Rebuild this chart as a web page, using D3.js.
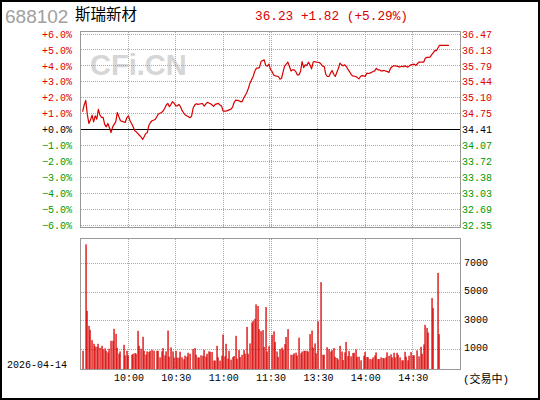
<!DOCTYPE html>
<html lang="zh-CN">
<head>
<meta charset="utf-8">
<title>688102 斯瑞新材</title>
<script src="https://cdn.jsdelivr.net/npm/d3@7/dist/d3.min.js"></script>
<style>
  body { margin: 0; background: #fff; }
  svg text { font-family: "Liberation Mono", "DejaVu Sans Mono", "Noto Sans CJK SC", monospace; }
</style>
</head>
<body>
<script>
  var stockCode = "688102";
  var stockName = "斯瑞新材";
  var preClose = 34.41;
  var lastPrice = 36.23;
  var change = 1.82;
  var changePct = 5.29;
  var dateLabel = "2026-04-14";
  var statusLabel = "(交易中)";

  // percent ticks on the price panel, minutes after 9:30 for the time ticks
  var pctTicks = [6, 5, 4, 3, 2, 1, 0, -1, -2, -3, -4, -5, -6];
  var timeTicks = [30, 60, 90, 120, 150, 180, 210];
  var timeLabels = ["10:00", "10:30", "11:00", "11:30", "13:30", "14:00", "14:30"];
  var volTicks = [1000, 3000, 5000, 7000];

  // minute line: minute index (0 = 9:30, 120 = 11:30/13:00) and change in %
  var priceMinute = [1, 2, 3, 4, 5, 6, 7, 8, 9, 10, 11, 12, 13, 14, 15, 16, 17, 18, 19, 20,
    21, 22, 23, 24, 25, 27, 28, 29, 30, 31, 32, 33, 34, 35, 37, 38, 39, 40, 41, 42,
    43, 44, 45, 47, 48, 49, 51, 52, 53, 54, 55, 56, 57, 58, 59, 60, 61, 62, 63, 64,
    65, 66, 68, 69, 70, 71, 72, 73, 74, 76, 77, 78, 79, 80, 82, 83, 84, 85, 87, 88,
    89, 90, 92, 93, 95, 96, 97, 98, 100, 101, 102, 103, 105, 106, 107, 108, 109, 110, 111, 112,
    113, 114, 116, 117, 118, 119, 120, 121, 122, 123, 125, 126, 127, 128, 129, 130, 131, 132, 133, 134,
    135, 136, 137, 138, 139, 140, 141, 142, 143, 144, 145, 146, 147, 148, 149, 151, 152, 153, 154, 155,
    156, 157, 158, 159, 160, 161, 163, 164, 165, 166, 167, 168, 169, 170, 171, 172, 174, 175, 176, 177,
    178, 179, 180, 181, 182, 183, 185, 186, 187, 188, 189, 190, 191, 192, 194, 195, 196, 197, 198, 199,
    200, 202, 203, 204, 205, 207, 208, 209, 211, 212, 213, 214, 216, 217, 218, 219, 220, 221, 222, 223,
    224, 225, 226, 227, 233];
  var pricePct = [1.12, 1.54, 1.83, 0.95, 0.38, 0.59, 0.90, 0.48, 0.86, 0.65, 1.26, 0.91, 0.76, 0.76, 0.32, 0.17, 0.38, 0.11, -0.19, 0.15,
    0.32, 0.48, 1.07, 0.80, 0.55, 0.48, 0.44, 0.74, 0.86, 0.57, 0.38, 0.17, -0.06, -0.15, -0.36, -0.46, -0.63, -0.46, -0.25, -0.19,
    0.27, 0.44, 0.55, 0.63, 0.80, 0.97, 1.07, 1.16, 1.33, 1.54, 1.64, 1.43, 1.58, 1.75, 1.64, 1.49, 1.49, 1.58, 1.43, 1.20,
    1.05, 0.91, 0.80, 0.74, 0.84, 1.33, 1.54, 1.62, 1.58, 1.62, 1.62, 1.47, 1.60, 1.71, 1.62, 1.54, 1.45, 1.58, 1.64, 1.54,
    1.47, 1.16, 1.16, 1.20, 1.28, 1.41, 1.71, 1.85, 1.81, 1.75, 1.75, 1.96, 2.32, 2.59, 2.91, 3.12, 3.33, 3.64, 3.85, 3.85,
    3.89, 4.27, 4.38, 4.02, 3.98, 4.11, 3.78, 3.64, 3.43, 3.37, 3.33, 3.16, 3.22, 3.64, 4.00, 4.11, 4.23, 3.96, 3.68, 3.75,
    3.75, 3.64, 3.43, 3.43, 3.64, 4.27, 3.89, 4.06, 4.02, 4.23, 4.06, 3.81, 4.23, 4.27, 4.23, 4.21, 4.11, 3.98, 3.96, 3.47,
    3.33, 3.33, 3.54, 3.71, 3.47, 3.33, 3.85, 4.17, 4.06, 4.00, 4.06, 3.96, 3.79, 3.64, 3.47, 3.37, 3.33, 3.26, 3.18, 3.33,
    3.39, 3.37, 3.33, 3.54, 3.52, 3.54, 3.64, 3.68, 3.85, 3.75, 3.75, 3.68, 3.68, 3.71, 3.64, 3.58, 3.85, 3.94, 4.00, 4.00,
    3.98, 3.92, 3.98, 3.94, 4.00, 3.92, 4.00, 4.06, 4.11, 4.02, 4.13, 4.23, 4.23, 4.23, 4.48, 4.53, 4.53, 4.55, 4.69, 4.82,
    4.95, 4.95, 5.12, 5.29, 5.29];

  // volume bars (lots per minute)
  var volMinute = [1, 3, 4, 5, 6, 7, 8, 9, 10, 11, 12, 13, 14, 15, 16, 17, 18, 19, 20, 21,
    22, 23, 24, 25, 27, 28, 29, 30, 32, 33, 34, 35, 36, 37, 38, 39, 40, 41, 42, 43,
    44, 45, 46, 48, 49, 50, 51, 52, 53, 54, 55, 56, 57, 58, 59, 60, 61, 62, 63, 64,
    65, 66, 67, 68, 69, 71, 72, 73, 74, 75, 76, 77, 78, 79, 80, 81, 82, 83, 84, 85,
    86, 87, 88, 89, 90, 91, 92, 93, 94, 95, 96, 97, 98, 99, 100, 101, 102, 103, 104, 105,
    106, 107, 108, 109, 110, 111, 112, 113, 114, 115, 116, 117, 118, 119, 121, 122, 123, 124, 125, 126,
    127, 128, 129, 130, 131, 133, 134, 135, 136, 137, 138, 139, 140, 141, 142, 143, 144, 145, 146, 147,
    148, 149, 150, 152, 153, 154, 156, 157, 158, 159, 160, 161, 162, 163, 164, 165, 166, 167, 168, 169,
    170, 171, 172, 173, 174, 175, 176, 177, 179, 180, 181, 182, 183, 184, 185, 186, 187, 188, 189, 190,
    191, 192, 193, 194, 195, 196, 197, 198, 199, 200, 201, 202, 203, 204, 205, 206, 207, 208, 209, 210,
    211, 213, 214, 215, 216, 217, 218, 219, 220, 222, 223, 226, 227];
  var volume = [880, 8350, 3675, 2630, 2350, 1630, 1370, 1190, 1160, 1370, 1090, 1230, 980, 1050, 880, 770, 1020, 1580, 1580, 2420,
    2070, 1090, 670, 840, 1300, 560, 880, 560, 600, 670, 720, 670, 2280, 1230, 1020, 1860, 880, 600, 840, 790,
    880, 950, 880, 880, 880, 420, 840, 1070, 560, 840, 2300, 470, 1120, 840, 400, 880, 400, 400, 810, 420,
    280, 540, 470, 740, 670, 1000, 1070, 600, 400, 420, 560, 530, 950, 470, 670, 840, 810, 790, 190, 190,
    1230, 420, 190, 540, 2020, 490, 1370, 330, 880, 260, 440, 510, 1930, 330, 930, 440, 600, 930, 670, 2560,
    670, 1400, 2860, 2980, 3120, 4140, 4020, 2400, 2260, 2330, 1150, 3950, 830, 1200, 2000, 2250, 1500, 830, 450, 1000,
    1100, 930, 1350, 1850, 2400, 600, 600, 700, 750, 550, 1800, 700, 830, 880, 880, 880, 830, 2050, 2300, 1100,
    1400, 700, 2950, 5700, 600, 600, 1130, 1000, 830, 930, 1070, 450, 380, 270, 1230, 830, 230, 770, 1500, 510,
    860, 490, 720, 740, 980, 460, 460, 210, 530, 790, 440, 420, 300, 280, 420, 560, 770, 300, 300, 420,
    370, 350, 420, 770, 530, 630, 420, 740, 420, 740, 600, 420, 210, 210, 810, 460, 210, 530, 790, 560,
    560, 910, 490, 1160, 670, 1330, 2700, 2490, 2160, 4580, 3880, 6350, 2050];

  var red = "#d90000";
  var green = "#009a00";
  var gridColor = "#aaaaaa";
  var frameColor = "#999999";

  var pricePanel = { left: 80.5, right: 460.5, top: 31.5, bottom: 227.5 };
  var volPanel = { left: 80.5, right: 460.5, top: 238.5, bottom: 369.5 };

  var x = d3.scaleLinear().domain([0, 240]).range([81, 460]);
  var yP = d3.scaleLinear().domain([-6, 6]).range([225, 34]);
  var yV = d3.scaleLinear().domain([-400, 8800]).range([369, 238]);

  var fmt2 = d3.format(".2f");
  var fmt1 = d3.format(".1f");

  function crisp(v) {
    return Math.floor(v) + 0.5;
  }

  function pctColor(d) {
    return d > 0 ? red : (d < 0 ? green : "#000");
  }

  var svg = d3.select("body").append("svg")
    .attr("width", 540)
    .attr("height", 400);

  svg.append("rect")
    .attr("width", 540).attr("height", 400)
    .attr("fill", "#fff");

  // header
  svg.append("text")
    .attr("x", 5).attr("y", 23)
    .style("font-family", "'Liberation Sans', Arial, sans-serif")
    .attr("font-size", 19)
    .attr("fill", "#a0a0a0")
    .text(stockCode);

  svg.append("text")
    .attr("x", 75).attr("y", 20)
    .style("font-family", "'Noto Sans CJK SC', sans-serif")
    .attr("font-size", 15.5)
    .attr("fill", "#000")
    .text(stockName);

  svg.append("text")
    .attr("x", 255).attr("y", 20)
    .attr("font-size", 12.75)
    .attr("fill", red)
    .text(fmt2(lastPrice) + " +" + fmt2(change) + " (+" + fmt2(changePct) + "%)");

  // watermark
  svg.append("text")
    .attr("x", 90).attr("y", 75)
    .style("font-family", "'Liberation Sans', Arial, sans-serif")
    .attr("font-size", 29)
    .attr("font-weight", "bold")
    .attr("fill", "#d6d6d6")
    .text("CFi.CN");

  function drawVGrid(panel) {
    var g = svg.append("g")
      .attr("stroke", gridColor)
      .attr("stroke-dasharray", "1,1")
      .attr("shape-rendering", "crispEdges");
    timeTicks.forEach(function(t) {
      var xs = t == 120 ? [crisp(x(t)) - 1, crisp(x(t)) + 1] : [crisp(x(t))];
      xs.forEach(function(xx) {
        g.append("line")
          .attr("x1", xx).attr("x2", xx)
          .attr("y1", panel.top).attr("y2", panel.bottom);
      });
    });
  }

  // price panel grid
  drawVGrid(pricePanel);
  svg.append("g")
    .attr("stroke", gridColor)
    .attr("stroke-dasharray", "1,1")
    .attr("shape-rendering", "crispEdges")
    .selectAll("line")
    .data(pctTicks.filter(function(d) { return d != 0; }))
    .enter().append("line")
    .attr("x1", pricePanel.left).attr("x2", pricePanel.right)
    .attr("y1", function(d) { return crisp(yP(d)); })
    .attr("y2", function(d) { return crisp(yP(d)); });

  svg.append("line")
    .attr("x1", pricePanel.left).attr("x2", pricePanel.right)
    .attr("y1", crisp(yP(0))).attr("y2", crisp(yP(0)))
    .attr("stroke", "#000")
    .attr("shape-rendering", "crispEdges");

  // volume panel grid
  drawVGrid(volPanel);
  svg.append("g")
    .attr("stroke", gridColor)
    .attr("stroke-dasharray", "1,1")
    .attr("shape-rendering", "crispEdges")
    .selectAll("line")
    .data(volTicks)
    .enter().append("line")
    .attr("x1", volPanel.left).attr("x2", volPanel.right)
    .attr("y1", function(d) { return crisp(yV(d)); })
    .attr("y2", function(d) { return crisp(yV(d)); });

  // volume bars
  svg.append("g")
    .attr("fill", red)
    .selectAll("rect")
    .data(d3.zip(volMinute, volume))
    .enter().append("rect")
    .attr("x", function(d) { return Math.round(x(d[0])) - 0.6; })
    .attr("width", 1.3)
    .attr("y", function(d) { return yV(d[1]); })
    .attr("height", function(d) { return yV.range()[0] - yV(d[1]); });

  // price line
  var line = d3.line()
    .x(function(d) { return x(d[0]); })
    .y(function(d) { return yP(d[1]); });

  svg.append("path")
    .datum(d3.zip(priceMinute, pricePct))
    .attr("fill", "none")
    .attr("stroke", red)
    .attr("stroke-width", 1.2)
    .attr("stroke-linejoin", "round")
    .attr("d", line);

  // frames
  [pricePanel, volPanel].forEach(function(p) {
    svg.append("rect")
      .attr("x", p.left).attr("y", p.top)
      .attr("width", p.right - p.left).attr("height", p.bottom - p.top)
      .attr("fill", "none")
      .attr("stroke", frameColor)
      .attr("shape-rendering", "crispEdges");
  });

  // axes
  function styleAxis(g) {
    g.select(".domain").remove();
    g.selectAll("line").remove();
    g.attr("font-family", null).attr("font-size", 10);
  }

  var leftAxis = svg.append("g")
    .attr("transform", "translate(80,0)")
    .call(d3.axisLeft(yP).tickValues(pctTicks).tickSize(0).tickPadding(8)
      .tickFormat(function(d) { return (d >= 0 ? "+" : "") + fmt1(d) + "%"; }))
    .call(styleAxis);
  leftAxis.selectAll("text").attr("fill", pctColor);

  var rightAxis = svg.append("g")
    .attr("transform", "translate(461,0)")
    .call(d3.axisRight(yP).tickValues(pctTicks).tickSize(0).tickPadding(1)
      .tickFormat(function(d) { return fmt2(preClose * (1 + d / 100)); }))
    .call(styleAxis);
  rightAxis.selectAll("text").attr("fill", pctColor);

  var volAxis = svg.append("g")
    .attr("transform", "translate(461,-1.5)")
    .call(d3.axisRight(yV).tickValues(volTicks).tickSize(0).tickPadding(3)
      .tickFormat(d3.format("d")))
    .call(styleAxis);
  volAxis.selectAll("text").attr("fill", "#000");

  var timeAxis = svg.append("g")
    .attr("transform", "translate(0,369)")
    .call(d3.axisBottom(x).tickValues(timeTicks).tickSize(0).tickPadding(5)
      .tickFormat(function(d, i) { return timeLabels[i]; }))
    .call(styleAxis);
  timeAxis.selectAll("text").attr("fill", "#000");

  svg.append("text")
    .attr("x", 7).attr("y", 367.5)
    .attr("font-size", 10)
    .attr("fill", "#000")
    .text(dateLabel);

  svg.append("text")
    .attr("x", 463).attr("y", 383)
    .attr("font-size", 11)
    .attr("fill", "#000")
    .text(statusLabel);

  // outer border
  svg.append("rect")
    .attr("x", 1).attr("y", 1)
    .attr("width", 538).attr("height", 398)
    .attr("fill", "none")
    .attr("stroke", "#000")
    .attr("stroke-width", 2);
</script>
</body>
</html>
